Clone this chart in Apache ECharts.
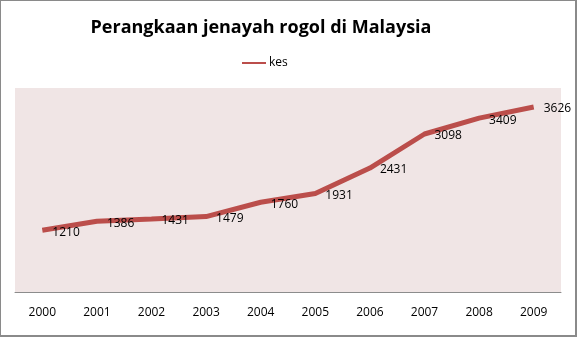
<!DOCTYPE html>
<html>
<head>
<meta charset="utf-8">
<script src="https://cdn.jsdelivr.net/npm/echarts@6/dist/echarts.min.js"></script>
<style>
  html, body { margin: 0; padding: 0; background: #fff; }
  #chart { width: 577px; height: 337px; box-sizing: border-box; border: 2px solid #8a8a8a; border-top-width: 1px; border-left-width: 1px; }
</style>
</head>
<body>
<div id="chart"></div>
<script>
// Rape cases recorded in Malaysia, 2000-2009
const years = ['2000', '2001', '2002', '2003', '2004', '2005', '2006', '2007', '2008', '2009'];
const kes = [1210, 1386, 1431, 1479, 1760, 1931, 2431, 3098, 3409, 3626];

const chart = echarts.init(document.getElementById('chart'));
chart.setOption({
  animation: false,
  backgroundColor: '#ffffff',
  title: {
    text: 'Perangkaan jenayah rogol di Malaysia',
    left: 255,
    top: 13,
    textAlign: 'center',
    textStyle: {
      fontFamily: 'Open Sans',
      fontWeight: 'bold',
      fontSize: 18,
      color: '#000000'
    }
  },
  legend: {
    data: ['kes'],
    left: 236,
    top: 51,
    itemWidth: 24,
    itemHeight: 14,
    itemGap: 4,
    icon: 'path://M0,6 L24,6 L24,8 L0,8 Z',
    textStyle: { fontFamily: 'Open Sans', fontSize: 12, color: '#000', padding: [0, 0, 0, -2] }
  },
  grid: {
    left: 14,
    right: 14,
    top: 87,
    bottom: 43,
    show: true,
    backgroundColor: '#f0e5e5',
    borderWidth: 0
  },
  xAxis: {
    type: 'category',
    data: years,
    boundaryGap: true,
    axisLine: { lineStyle: { color: '#8c8c8c', width: 1 } },
    axisTick: { show: false },
    axisLabel: {
      margin: 15,
      fontFamily: 'Open Sans',
      fontSize: 12,
      color: '#000'
    }
  },
  yAxis: {
    type: 'value',
    min: 0,
    max: 4000,
    interval: 1000,
    show: false,
    splitLine: { show: false }
  },
  series: [{
    name: 'kes',
    type: 'line',
    data: kes,
    symbol: 'circle',
    symbolSize: 0,
    showSymbol: true,
    lineStyle: { color: '#bb4e4b', width: 5 },
    itemStyle: { color: '#bb4e4b' },
    label: {
      show: true,
      position: 'right',
      distance: 10,
      offset: [0, 2],
      fontFamily: 'Open Sans',
      fontSize: 12,
      color: '#000'
    }
  }]
});
</script>
</body>
</html>
